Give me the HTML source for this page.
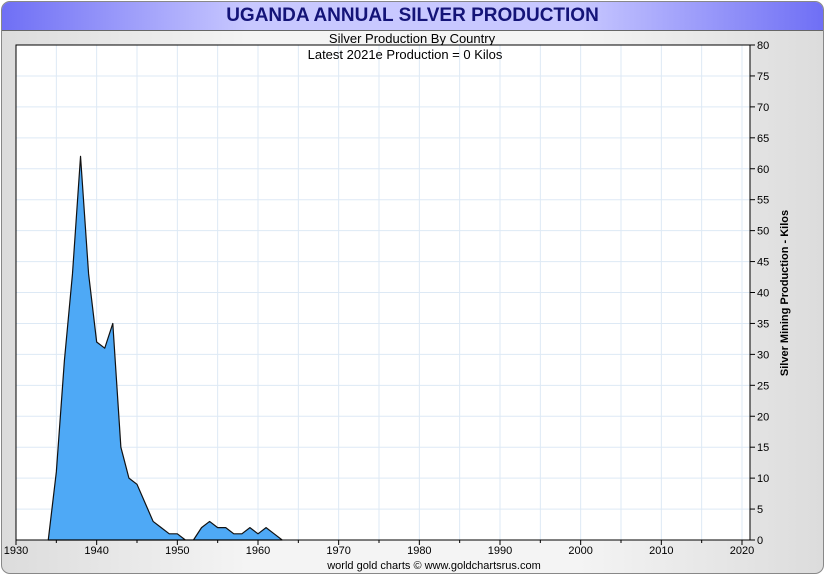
<!DOCTYPE html>
<html><head><meta charset="utf-8"><style>
body{margin:0;width:825px;height:575px;overflow:hidden;background:#fff;font-family:"Liberation Sans",sans-serif}
#frame{position:absolute;left:1px;top:1px;width:821px;height:571px;border:1px solid #888;border-radius:9px;background:linear-gradient(90deg,#dcdcdc,#f4f4f4 30%,#f4f4f4 70%,#dcdcdc);overflow:hidden}
#title{position:absolute;left:0;top:0;width:821px;height:28px;background:linear-gradient(90deg,#6f6ff5,#c8c8ff 30%,#c8c8ff 70%,#6f6ff5);border-bottom:1px solid #666;text-align:center;font-weight:bold;font-size:19px;line-height:28px;color:#141478}
</style></head><body>
<div id="frame">
<div id="title">UGANDA ANNUAL SILVER PRODUCTION</div>
</div>
<svg id="c" width="825" height="575" style="position:absolute;left:0;top:0"></svg>
<script>
const years=[1934,1935,1936,1937,1938,1939,1940,1941,1942,1943,1944,1945,1946,1947,1948,1949,1950,1951,1952,1953,1954,1955,1956,1957,1958,1959,1960,1961,1962,1963];
const values=[0,11,29,43,62,43,32,31,35,15,10,9,6,3,2,1,1,0,0,2,3,2,2,1,1,2,1,2,1,0];
const xTicks=[1930,1940,1950,1960,1970,1980,1990,2000,2010,2020];
const yTicks=[0,5,10,15,20,25,30,35,40,45,50,55,60,65,70,75,80];
const L=16,R=750,T=45,B=540;
const x=y=>L+(y-1930)*(742-16)/90;
const yv=v=>B-v*(B-T)/80;
const s=document.getElementById('c');const NS='http://www.w3.org/2000/svg';
function el(t,a,p){const e=document.createElementNS(NS,t);for(const k in a)e.setAttribute(k,a[k]);(p||s).appendChild(e);return e;}
const bg=el('rect',{x:L,y:T,width:R-L,height:B-T,fill:'#fff'});


for(let yr=1935;yr<=2020;yr+=5){const g=el('line',{x1:x(yr),x2:x(yr),y1:T,y2:B,stroke:'#dde9f5','stroke-width':1});

}
yTicks.forEach(v=>{if(v>0&&v<80){const g=el('line',{x1:L,x2:R,y1:yv(v),y2:yv(v),stroke:'#dde9f5','stroke-width':1});

}});
let d='M'+x(years[0])+','+yv(0);
years.forEach((yr,i)=>{d+=' L'+x(yr)+','+yv(values[i]);});
d+=' L'+x(years[years.length-1])+','+yv(0)+' Z';
const a=el('path',{d:d,fill:'#4ea9f6',stroke:'#111','stroke-width':1.2,'stroke-linejoin':'round'});


const fr=el('rect',{x:L,y:T,width:R-L,height:B-T,fill:'none',stroke:'#000','stroke-width':1});


for(let yr=1930;yr<=2020;yr+=5){el('line',{x1:x(yr),x2:x(yr),y1:B,y2:B+(yr%10?3:5),stroke:'#000'});}
xTicks.forEach(yr=>{const t=el('text',{x:x(yr),y:B+14,'font-size':11,'text-anchor':'middle',fill:'#000'});t.textContent=yr;

});
yTicks.forEach(v=>{el('line',{x1:R,x2:R+5,y1:yv(v),y2:yv(v),stroke:'#000'});
const t=el('text',{x:R+7,y:yv(v)+4,'font-size':11,fill:'#000'});t.textContent=v;

});
function txt(str,X,Y,sz,name,extra){const t=el('text',Object.assign({x:X,y:Y,'font-size':sz,'text-anchor':'middle',fill:'#000'},extra||{}));t.textContent=str;

return t;}
txt('Silver Production By Country',412,43,13,'chart-subtitle');
txt('Latest 2021e Production = 0 Kilos',405,59,13,'latest-production-note');
txt('Silver Mining Production - Kilos',0,0,11,'y-axis-title',{transform:'translate(788,293) rotate(-90)','font-weight':'bold'});
txt('world gold charts © www.goldchartsrus.com',434,569,11,'footer-credit');
</script>
</body></html>
